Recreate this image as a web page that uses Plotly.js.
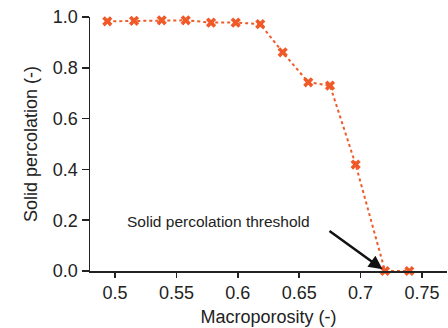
<!DOCTYPE html>
<html>
<head>
<meta charset="utf-8">
<script src="https://cdn.plot.ly/plotly-3.0.1.min.js"></script>
<style>html,body{margin:0;padding:0;background:#fff;}#chart{width:448px;height:328px;}</style>
</head>
<body>
<div id="chart"></div>
<script>
const macroporosity = [0.4937, 0.5155, 0.538, 0.5576, 0.5782, 0.5983, 0.6183, 0.6366, 0.6574, 0.6751, 0.6960, 0.7199, 0.7397];
const solidPercolation = [0.983, 0.985, 0.987, 0.987, 0.978, 0.978, 0.972, 0.861, 0.743, 0.730, 0.419, 0.0, 0.0];
const xTicks = [0.5, 0.55, 0.6, 0.65, 0.7, 0.75];
const xTickLabels = ['0.5', '0.55', '0.6', '0.65', '0.7', '0.75'];
const yTicks = [0, 0.2, 0.4, 0.6, 0.8, 1.0];
const yTickLabels = ['0.0', '0.2', '0.4', '0.6', '0.8', '1.0'];
const thresholdX = 0.7199;
const thresholdY = 0.0;
const annotationText = 'Solid percolation threshold';

const color = '#EF5A28';
const font = 'Liberation Sans, Arial, Helvetica, sans-serif';

const trace = {
  x: macroporosity,
  y: solidPercolation,
  type: 'scatter',
  mode: 'lines+markers',
  line: {color: color, width: 2, dash: 'dot'},
  marker: {symbol: 'x', size: 9, color: color},
  cliponaxis: false,
  showlegend: false
};

const layout = {
  width: 448, height: 328,
  margin: {l: 90, r: 1, t: 17, b: 57, pad: 0},
  paper_bgcolor: '#fff', plot_bgcolor: '#fff',
  font: {family: font, size: 18, color: '#222'},
  xaxis: {
    range: [0.4796, 0.7704],
    tickvals: xTicks, ticktext: xTickLabels,
    ticks: 'outside', ticklen: 5, tickwidth: 1.5, tickcolor: '#222',
    showline: true, linecolor: '#222', linewidth: 1.5,
    showgrid: false, zeroline: false,
    tickfont: {size: 18, color: '#222'},
    title: {text: 'Macroporosity (-)', font: {size: 18, color: '#222'}, standoff: 8},
    automargin: false
  },
  yaxis: {
    range: [0, 1],
    tickvals: yTicks, ticktext: yTickLabels,
    ticks: 'outside', ticklen: 7, tickwidth: 1.5, tickcolor: '#222',
    showline: true, linecolor: '#222', linewidth: 1.5,
    showgrid: false, zeroline: false,
    tickfont: {size: 18, color: '#222'},
    title: {text: 'Solid percolation (-)', font: {size: 18, color: '#222'}, standoff: 10},
    automargin: false
  },
  annotations: [
    {
      x: thresholdX, y: thresholdY, xref: 'x', yref: 'y',
      ax: -57, ay: -41, axref: 'pixel', ayref: 'pixel',
      showarrow: true, arrowhead: 2, arrowsize: 1.1, arrowwidth: 2.5, arrowcolor: '#111',
      standoff: 3, text: ''
    },
    {
      x: 0.5839, y: 0.194, xref: 'x', yref: 'y',
      text: annotationText, showarrow: false,
      font: {size: 15.5, color: '#222', family: font},
      xanchor: 'center', yanchor: 'middle'
    }
  ]
};

Plotly.newPlot('chart', [trace], layout, {displayModeBar: false, staticPlot: true});
</script>
</body>
</html>
